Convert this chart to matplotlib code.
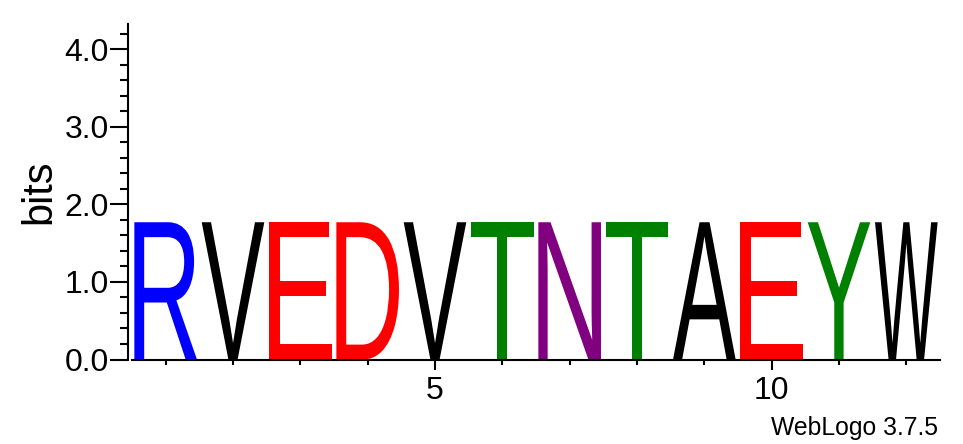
import matplotlib
matplotlib.use("Agg")
import matplotlib.pyplot as plt
from matplotlib.textpath import TextPath
from matplotlib.font_manager import FontProperties
from matplotlib.patches import PathPatch
from matplotlib.transforms import Affine2D
from matplotlib.ticker import MultipleLocator, FixedLocator

# Data: one fully conserved residue per position
positions = list(range(1, 13))
letters = ["R", "V", "E", "D", "V", "T", "N", "T", "A", "E", "Y", "W"]
heights = [1.77] * 12
color_map = {
    "R": "#0000ff", "K": "#0000ff", "H": "#0000ff",
    "D": "#ff0000", "E": "#ff0000",
    "T": "#008000", "Y": "#008000", "S": "#008000", "G": "#008000", "C": "#008000",
    "N": "#800080", "Q": "#800080",
    "A": "#000000", "V": "#000000", "W": "#000000", "L": "#000000",
    "I": "#000000", "P": "#000000", "F": "#000000", "M": "#000000",
}

W, H = 963, 444
fig = plt.figure(figsize=(W / 100, H / 100), dpi=100)
ax = fig.add_axes([132 / W, 84.5 / H, 808 / W, 335 / H])

font = FontProperties(family="Liberation Sans")
for pos, ch, h in zip(positions, letters, heights):
    tp = TextPath((0, 0), ch, size=1, prop=font)
    ext = tp.get_extents()
    wt = 0.93
    tr = (Affine2D().translate(-ext.x0, -ext.y0)
          .scale(wt / ext.width, h / ext.height)
          .translate(pos - wt / 2, 0))
    path = tr.transform_path(tp)
    ax.add_patch(PathPatch(path, facecolor=color_map[ch], edgecolor="none", lw=0))

ax.set_xlim(0.5, 12.5)
ax.set_ylim(0, 4.32)

for s in ["top", "right"]:
    ax.spines[s].set_visible(False)
ax.spines["left"].set_position(("outward", 3))
ax.spines["left"].set_linewidth(1.5)
ax.spines["bottom"].set_linewidth(1.5)

ax.yaxis.set_major_locator(FixedLocator([0, 1, 2, 3, 4]))
ax.yaxis.set_minor_locator(MultipleLocator(0.2))
ax.set_yticklabels(["0.0", "1.0", "2.0", "3.0", "4.0"])
ax.xaxis.set_major_locator(FixedLocator([5, 10]))
ax.xaxis.set_minor_locator(FixedLocator(positions))
ax.set_xticklabels(["5", "10"])

ax.tick_params(axis="y", which="major", direction="out", length=13, width=1.5,
               labelsize=23, pad=0.5)
ax.tick_params(axis="y", which="minor", direction="out", length=5.8, width=1.5)
ax.tick_params(axis="x", which="major", direction="out", length=7.2, width=1.5,
               labelsize=23, pad=5)
ax.tick_params(axis="x", which="minor", direction="out", length=3.6, width=1.5)
for lab in ax.get_xticklabels() + ax.get_yticklabels():
    lab.set_fontfamily("Liberation Sans")

ax.set_ylabel("bits", fontsize=30, fontfamily="Liberation Sans", labelpad=4)

fig.text(938 / W, 1 - 435 / H, "WebLogo 3.7.5", ha="right", va="baseline",
         fontsize=17.8, fontfamily="Liberation Sans")

fig.savefig("out.png", dpi=100)
